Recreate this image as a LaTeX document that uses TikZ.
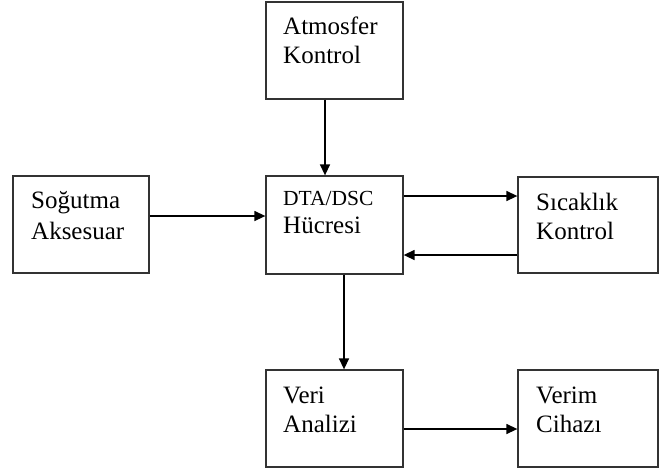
\documentclass[tikz,border=0pt]{standalone}
\usepackage{fontspec}
\setmainfont{Liberation Serif}
\usetikzlibrary{arrows.meta}
\begin{document}
\begin{tikzpicture}[x=1pt,y=-1pt,
  box/.style={draw=black!80,line width=1.3pt,rectangle,inner sep=0pt},
  txt/.style={inner sep=0pt,anchor=base west,font=\fontsize{25}{30}\selectfont},
  arr/.style={line width=1.4pt,-{Triangle[length=11pt,width=10pt]}}]
\useasboundingbox (0,0) rectangle (664,472);
% boxes
\node[box,minimum width=137pt,minimum height=97pt] (atm) at (334.5,50.5) {};
\node[box,minimum width=136pt,minimum height=97pt] (sog) at (81,224.5) {};
\node[box,minimum width=137pt,minimum height=98pt] (dta) at (334.5,225) {};
\node[box,minimum width=140pt,minimum height=96pt] (sic) at (588,225) {};
\node[box,minimum width=137pt,minimum height=97pt] (veri) at (334.5,418.5) {};
\node[box,minimum width=140pt,minimum height=97pt] (verim) at (588,418.5) {};
% texts
\node[txt] (tatm1) at (283,34) {Atmosfer};
\node[txt] (tatm2) at (283,63) {Kontrol};
\node[txt] (tsog1) at (31,208) {Soğutma};
\node[txt] (tsog2) at (31,239) {Aksesuar};
\node[txt,font=\fontsize{21.5}{28}\selectfont] (tdta1) at (283,205) {DTA/DSC};
\node[txt] (tdta2) at (283,233) {Hücresi};
\node[txt] (tsic1) at (536,210) {Sıcaklık};
\node[txt] (tsic2) at (536,239) {Kontrol};
\node[txt] (tveri1) at (283,403) {Veri};
\node[txt] (tveri2) at (283,432) {Analizi};
\node[txt] (tverim1) at (536,403) {Verim};
\node[txt] (tverim2) at (536,432) {Cihazı};
% connectors
\draw[arr] ([xshift=-9.5pt]atm.south) -- ([xshift=-9.5pt]dta.north);
\draw[arr] ([yshift=8.5pt]sog.east) -- ([yshift=8.5pt]sog.east -| dta.west);
\draw[arr] ([yshift=29pt]dta.east) -- ([yshift=29pt]dta.east -| sic.west);
\draw[arr] ([yshift=-30pt]sic.west) -- ([yshift=-30pt]sic.west -| dta.east);
\draw[arr] ([xshift=9.5pt]dta.south) -- ([xshift=9.5pt]dta.south |- veri.north);
\draw[arr] ([yshift=-10.5pt]veri.east) -- ([yshift=-10.5pt]veri.east -| verim.west);
\end{tikzpicture}
\end{document}
